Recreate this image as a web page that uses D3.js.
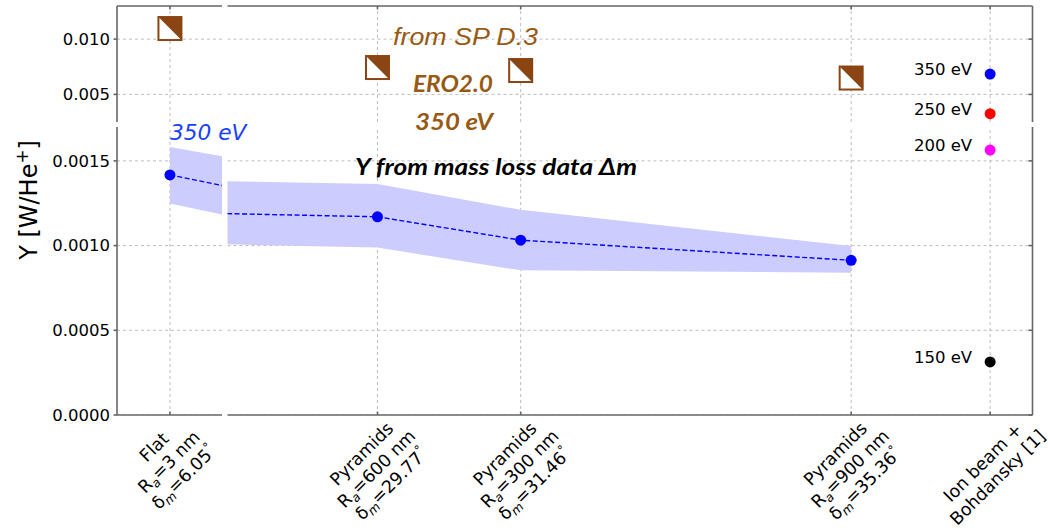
<!DOCTYPE html>
<html><head><meta charset="utf-8">
<script src="https://cdn.jsdelivr.net/npm/d3@7"></script>
<style>body{margin:0;background:#fff}</style>
</head><body>
<svg id="c" width="1048" height="530"></svg>
<script>
// ---------------- data ----------------
const tickAngles = [6.05, 29.77, 31.46, 35.36, 37.0];
const tickLabels = [
  ["Flat", "R_{a}=3 nm", "δ_{m}=6.05^{°}"],
  ["Pyramids", "R_{a}=600 nm", "δ_{m}=29.77^{°}"],
  ["Pyramids", "R_{a}=300 nm", "δ_{m}=31.46^{°}"],
  ["Pyramids", "R_{a}=900 nm", "δ_{m}=35.36^{°}"],
  ["Ion beam +", "Bohdansky [1]"]
];
const massAngles = [6.05, 29.77, 31.46, 35.36];
const massY     = [0.001417, 0.001170, 0.001032, 0.000913];
const massYLow  = [0.001249, 0.000988, 0.000854, 0.000840];
const massYHigh = [0.001582, 0.001364, 0.001211, 0.000998];
const eroAngles = [6.05, 29.77, 31.46, 35.36];
const eroY      = [0.01096, 0.00743, 0.00716, 0.00648];
const ionAngle  = 37.0;
const ionLabels = ["350 eV", "250 eV", "200 eV", "150 eV"];
const ionY      = [0.00684, 0.00325, 0.001564, 0.000313];
const yTicksTop = [0.005, 0.010];
const yTicksBot = [0.0000, 0.0005, 0.0010, 0.0015];

// ---------------- styles ----------------
const ionColors = ["#0000ff", "#ff0000", "#ff00ff", "#000000"];
const brown = "#8B4513";
const annoBrown = "#985a12";
const spineCol = "#666";
const gridCol = "#b5b5b5";
const font = "DejaVu Sans";
const fs = 16.5;
const fsX = 17.5;

const svg = d3.select("#c");

const xL = d3.scaleLinear().domain([0, 12]).range([117, 222]);
const xR = d3.scaleLinear().domain([28, 37.5]).range([227.5, 1032.5]);
const yT = d3.scaleLinear().domain([0.0025, 0.013]).range([122, 6]);
const yB = d3.scaleLinear().domain([0, 0.0017]).range([415, 127]);

const panels = [
  {x: xL, y: yT, side: "L", vert: "T", yt: yTicksTop},
  {x: xL, y: yB, side: "L", vert: "B", yt: yTicksBot},
  {x: xR, y: yT, side: "R", vert: "T", yt: yTicksTop},
  {x: xR, y: yB, side: "R", vert: "B", yt: yTicksBot},
];

const defs = svg.append("defs");

function inDom(s, v) { const d = s.domain(); return v >= d[0] && v <= d[1]; }

panels.forEach((p, i) => {
  const [x0, x1] = p.x.range();
  const [y0, y1] = p.y.range(); // y0 bottom, y1 top
  const id = "clip" + i;
  defs.append("clipPath").attr("id", id).append("rect")
    .attr("x", x0).attr("y", y1).attr("width", x1 - x0).attr("height", y0 - y1);
  const g = svg.append("g");
  const gc = g.append("g").attr("clip-path", `url(#${id})`);

  // grid
  tickAngles.filter(a => inDom(p.x, a)).forEach(a => {
    gc.append("line").attr("x1", p.x(a)).attr("x2", p.x(a)).attr("y1", y0).attr("y2", y1)
      .attr("stroke", gridCol).attr("stroke-width", 0.9).attr("stroke-dasharray", "3,3");
  });
  p.yt.forEach(v => {
    gc.append("line").attr("x1", x0).attr("x2", x1).attr("y1", p.y(v)).attr("y2", p.y(v))
      .attr("stroke", gridCol).attr("stroke-width", 0.9).attr("stroke-dasharray", "3,3");
  });

  // band
  const idx = d3.range(massAngles.length);
  gc.append("path").datum(idx)
    .attr("d", d3.area().x(k => p.x(massAngles[k])).y0(k => p.y(massYLow[k])).y1(k => p.y(massYHigh[k])))
    .attr("fill", "#ccccff").attr("stroke", "none");
  gc.append("path").datum(idx)
    .attr("d", d3.line().x(k => p.x(massAngles[k])).y(k => p.y(massY[k])))
    .attr("fill", "none").attr("stroke", "#0000ff").attr("stroke-width", 1.4).attr("stroke-dasharray", "5,2.5");
  idx.forEach(k => {
    gc.append("circle").attr("cx", p.x(massAngles[k])).attr("cy", p.y(massY[k])).attr("r", 5.5).attr("fill", "#0000ff");
  });

  // ERO2.0 squares
  const s = 23;
  eroAngles.forEach((a, k) => {
    const cx = p.x(a), cy = p.y(eroY[k]);
    const mg = gc.append("g").attr("transform", `translate(${cx},${cy})`);
    mg.append("rect").attr("x", -s/2).attr("y", -s/2).attr("width", s).attr("height", s).attr("fill", "#fff");
    mg.append("path").attr("d", `M${-s/2},${-s/2}L${s/2},${-s/2}L${s/2},${s/2}Z`).attr("fill", brown);
    mg.append("rect").attr("x", -s/2).attr("y", -s/2).attr("width", s).attr("height", s)
      .attr("fill", "none").attr("stroke", brown).attr("stroke-width", 2);
  });

  // ion beam points
  ionY.forEach((v, k) => {
    gc.append("circle").attr("cx", p.x(ionAngle)).attr("cy", p.y(v)).attr("r", 5.5).attr("fill", ionColors[k]);
    if (inDom(p.x, ionAngle) && inDom(p.y, v)) {
      g.append("text").attr("x", p.x(ionAngle) - 18).attr("y", p.y(v) + 1)
        .attr("text-anchor", "end").attr("font-family", font).attr("font-size", fs)
        .attr("fill", "#000").text(ionLabels[k]);
    }
  });

  // spines and ticks
  const sp = (a, b, c, d) => g.append("line").attr("x1", a).attr("y1", b).attr("x2", c).attr("y2", d)
    .attr("stroke", spineCol).attr("stroke-width", 1.6).attr("stroke-linecap", "butt");
  if (p.side === "L") {
    sp(x0, y0, x0, y1);
    p.yt.forEach(v => {
      sp(x0 - 3.5, p.y(v), x0, p.y(v));
      g.append("text").attr("x", x0 - 7).attr("y", p.y(v)).attr("dy", "0.35em")
        .attr("text-anchor", "end").attr("font-family", font).attr("font-size", fs).attr("fill", "#000")
        .text(d3.format(p.vert === "T" ? ".3f" : ".4f")(v));
    });
  } else {
    sp(x1, y0, x1, y1);
    p.yt.forEach(v => sp(x1 - 4, p.y(v), x1, p.y(v)));
  }
  if (p.vert === "T") {
    sp(x0, y1, x1, y1);
    tickAngles.filter(a => inDom(p.x, a)).forEach(a => sp(p.x(a), y1, p.x(a), y1 + 3.5));
  } else {
    sp(x0, y0, x1, y0);
    tickAngles.filter(a => inDom(p.x, a)).forEach(a => sp(p.x(a), y0, p.x(a), y0 - 3.5));
  }
});

// rich text helper: _{..} subscript, ^{..} superscript
function rich(textSel, str, size) {
  const parts = str.split(/(_\{[^}]*\}|\^\{[^}]*\})/).filter(t => t.length);
  let shift = 0;
  parts.forEach(t => {
    let dy = 0, content = t, fsz = size, italic = false;
    let target = 0;
    if (t.startsWith("_{")) { content = t.slice(2, -1); fsz = size * 0.7; target = size * 0.22; italic = true; }
    else if (t.startsWith("^{")) { content = t.slice(2, -1); fsz = size * 0.7; target = -size * 0.38; }
    dy = target - shift; shift = target;
    const ts = textSel.append("tspan").attr("font-size", fsz).text(content);
    if (dy) ts.attr("dy", dy);
    if (italic) ts.attr("font-style", "italic");
  });
}

// x tick labels (rotated 45)
tickAngles.forEach((a, k) => {
  const sc = inDom(xL, a) ? xL : xR;
  const outer = svg.append("g");
  const inner = outer.append("g").attr("transform", "rotate(-45)");
  tickLabels[k].forEach((ln, j) => {
    const t = inner.append("text").attr("x", 0).attr("y", j * fsX * 1.2)
      .attr("text-anchor", "middle").attr("font-family", font).attr("font-size", fsX).attr("fill", "#000");
    rich(t, ln, fsX);
  });
  const bb = outer.node().getBBox();
  const tx = sc(a) - (bb.x + bb.width / 2);
  const ty = 411 - bb.y;
  outer.attr("transform", `translate(${tx},${ty})`);
});

// y axis label
const yl = svg.append("text").attr("transform", "translate(37,200) rotate(-90)")
  .attr("text-anchor", "middle").attr("font-family", font).attr("font-size", 24).attr("fill", "#000");
rich(yl, "Y [W/He^{+}]", 24);

// annotations
svg.append("text").attr("x", xL(6.05)).attr("y", 140)
  .attr("font-family", font).attr("font-style", "italic").attr("font-size", 21.7).attr("fill", "#1840ff")
  .text("350 eV");
svg.append("text").attr("x", 393).attr("y", 45)
  .attr("font-family", "Liberation Sans").attr("font-style", "italic").attr("font-size", 24)
  .attr("fill", annoBrown).attr("textLength", 145).attr("lengthAdjust", "spacingAndGlyphs").text("from SP D.3");
svg.append("text").attr("x", 413).attr("y", 92)
  .attr("font-family", "Lato").attr("font-style", "italic").attr("font-weight", "bold").attr("font-size", 23)
  .attr("fill", annoBrown).attr("textLength", 80).attr("lengthAdjust", "spacingAndGlyphs").text("ERO2.0");
svg.append("text").attr("x", 415).attr("y", 130)
  .attr("font-family", "Lato").attr("font-style", "italic").attr("font-weight", "bold").attr("font-size", 23)
  .attr("fill", annoBrown).attr("textLength", 78).attr("lengthAdjust", "spacingAndGlyphs").text("350 eV");
svg.append("text").attr("x", 355).attr("y", 175)
  .attr("font-family", "Lato").attr("font-style", "italic").attr("font-weight", "bold").attr("font-size", 22)
  .attr("fill", "#000").attr("textLength", 282).attr("lengthAdjust", "spacingAndGlyphs").text("Y from mass loss data Δm");
</script>
</body></html>
